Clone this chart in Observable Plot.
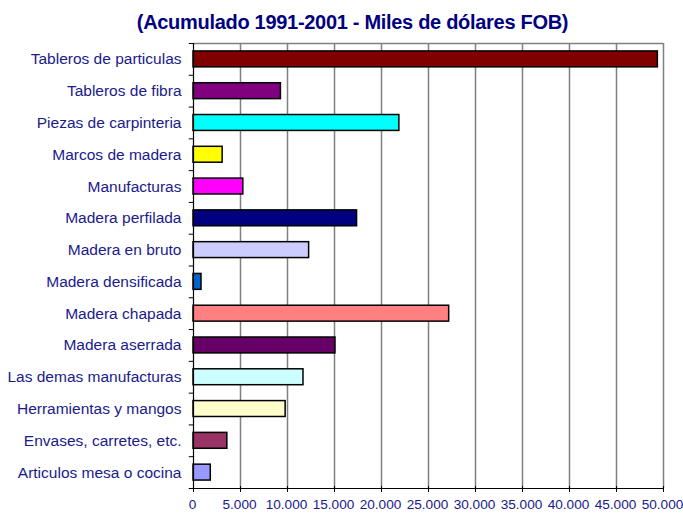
<!DOCTYPE html>
<html>
<head>
<meta charset="utf-8">
<script src="https://cdn.jsdelivr.net/npm/d3@7"></script>
<script src="https://cdn.jsdelivr.net/npm/@observablehq/plot@0.6"></script>
<style>
  body { margin: 0; background: #fff; }
  #title { height: 40px; width: 683px; box-sizing: border-box; padding-left: 22px; text-align: center;
    font: bold 20px "Liberation Sans", Arial, sans-serif; letter-spacing: -0.3px; color: #000080; line-height: 44px; overflow: visible; white-space: nowrap; }
  svg { display: block; overflow: visible; }
</style>
</head>
<body>
<div id="title">(Acumulado 1991-2001 - Miles de dólares FOB)</div>
<div id="chart"></div>
<script>
const categories = [
  "Tableros de particulas", "Tableros de fibra", "Piezas de carpinteria", "Marcos de madera",
  "Manufacturas", "Madera perfilada", "Madera en bruto", "Madera densificada",
  "Madera chapada", "Madera aserrada", "Las demas manufacturas", "Herramientas y mangos",
  "Envases, carretes, etc.", "Articulos mesa o cocina"
];
const values = [49400, 9300, 21900, 3100, 5300, 17400, 12300, 850, 27200, 15100, 11700, 9800, 3600, 1840];
const colors = ["#800000", "#800080", "#00FFFF", "#FFFF00", "#FF00FF", "#000080", "#CCCCFF", "#0066CC",
  "#FF8080", "#660066", "#CCFFFF", "#FFFFCC", "#993366", "#9999FF"];
const xTicks = [0, 5000, 10000, 15000, 20000, 25000, 30000, 35000, 40000, 45000, 50000];

const data = categories.map((c, i) => ({category: c, value: values[i], color: colors[i]}));
const fmt = d => d === 0 ? "0" : d3.format(",")(d).replace(/,/g, ".");

const W = 683, H = 477, mt = 3, mb = 29, ml = 193, mr = 20;
const step = (H - mt - mb) / categories.length;
const last = categories[categories.length - 1];
const textColor = "#1a1a8c";
const font = "Liberation Sans, Arial, sans-serif";

const chart = Plot.plot({
  width: W, height: H,
  marginTop: mt, marginBottom: mb, marginLeft: ml, marginRight: mr,
  style: {fontFamily: font, background: "#fff", overflow: "visible"},
  x: {domain: [0, 50000], axis: null},
  y: {domain: categories, padding: 0, round: false, axis: null},
  marks: [
    Plot.ruleX(xTicks.filter(d => d > 0), {stroke: "#808080", strokeWidth: 1.5}),
    Plot.ruleY([categories[0]], {x1: 0, x2: 50000, dy: -step / 2, stroke: "#808080", strokeWidth: 1.5}),
    Plot.barX(data, {y: "category", x: "value", fill: d => d.color, stroke: "#000", strokeWidth: 1.5,
      insetTop: step * 0.25, insetBottom: step * 0.25}),
    Plot.ruleX([0], {stroke: "#000", strokeWidth: 1.2}),
    Plot.ruleY([last], {x1: 0, x2: 50000, dy: step / 2, stroke: "#000", strokeWidth: 1.2}),
    Plot.ruleY(categories, {x1: -450, x2: 0, dy: -step / 2, stroke: "#000"}),
    Plot.ruleY([last], {x1: -450, x2: 0, dy: step / 2, stroke: "#000"}),
    Plot.tickX(xTicks, {x: d => d, y: () => last, insetTop: step - 6, dy: 4, stroke: "#000"}),
    Plot.text(categories, {y: d => d, x: 0, dx: -12, textAnchor: "end", fill: textColor, fontSize: 15.5}),
    Plot.text(xTicks, {x: d => d, text: fmt, frameAnchor: "bottom", dy: 20, dx: -1, fill: textColor, fontSize: 13.6})
  ]
});
document.getElementById("chart").appendChild(chart);
</script>
</body>
</html>
